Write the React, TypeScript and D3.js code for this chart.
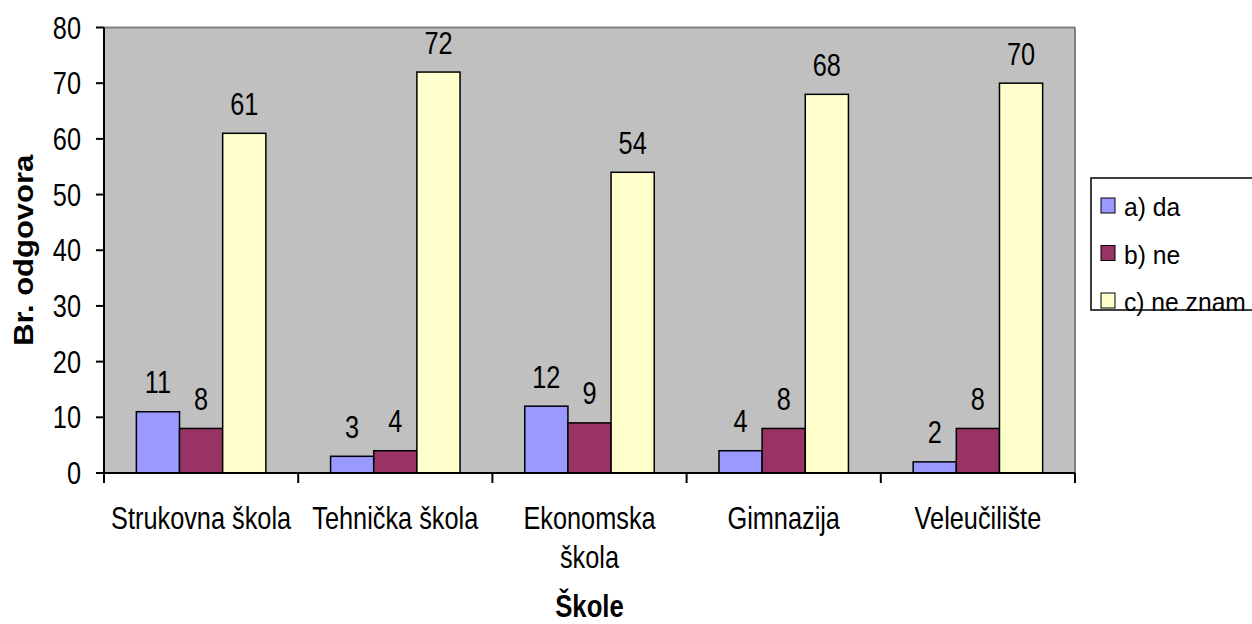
import React from "react";
import * as d3 from "d3";

const categories = ["Strukovna škola", "Tehnička škola", "Ekonomska škola", "Gimnazija", "Veleučilište"];
const categoryLines = [["Strukovna škola"], ["Tehnička škola"], ["Ekonomska", "škola"], ["Gimnazija"], ["Veleučilište"]];
const seriesNames = ["a) da", "b) ne", "c) ne znam"];
const seriesColors = ["#9999FF", "#993366", "#FFFFCC"];
const daValues = [11, 3, 12, 4, 2];
const neValues = [8, 4, 9, 8, 8];
const neZnamValues = [61, 72, 54, 68, 70];
const yTicks = [0, 10, 20, 30, 40, 50, 60, 70, 80];
const yTitle = "Br. odgovora";
const xTitle = "Škole";

const W = 1252;
const H = 624;
const FONT = "'Liberation Sans', Arial, sans-serif";
const SX = 0.83;
const FS = 30.5;

export default function App() {
  const left = 104, right = 1075, top = 27.5, bottom = 473;
  const x = d3.scaleBand<string>().domain(categories).range([left, right]).padding(0);
  const inner = d3.scaleBand<string>().domain(seriesNames).range([0, x.bandwidth()]).paddingInner(0).paddingOuter(0.75);
  const y = d3.scaleLinear().domain([0, 80]).range([bottom, top]);
  const allSeries = [daValues, neValues, neZnamValues];

  return (
    <svg width={W} height={H} style={{ position: "fixed", left: 0, top: 0, background: "#fff" }} fontFamily={FONT}>
      <rect x={left} y={top} width={right - left} height={bottom - top} fill="#C0C0C0" />
      <line x1={left} x2={right} y1={top} y2={top} stroke="#808080" strokeWidth={2} />
      <line x1={right} x2={right} y1={top} y2={bottom} stroke="#808080" strokeWidth={2} />

      {categories.map((c, ci) =>
        allSeries.map((vals, si) => {
          const bx = (x(c) as number) + (inner(seriesNames[si]) as number);
          const bw = inner.bandwidth();
          const v = vals[ci];
          return (
            <g key={c + si}>
              <rect x={bx} y={y(v)} width={bw} height={bottom - y(v)} fill={seriesColors[si]} stroke="#000" strokeWidth={1.5} />
              <text transform={`translate(${bx + bw / 2},${y(v) - 18.5}) scale(${SX},1)`} textAnchor="middle" fontSize={FS} fill="#000">
                {v}
              </text>
            </g>
          );
        })
      )}

      <line x1={left} x2={left} y1={top} y2={bottom} stroke="#000" strokeWidth={2} />
      <line x1={left} x2={right} y1={bottom} y2={bottom} stroke="#000" strokeWidth={2} />
      {yTicks.map((t) => (
        <g key={t}>
          <line x1={left - 8} x2={left} y1={y(t)} y2={y(t)} stroke="#000" strokeWidth={2} />
          <text transform={`translate(81,${y(t) + 11}) scale(${SX},1)`} textAnchor="end" fontSize={FS} fill="#000">
            {t}
          </text>
        </g>
      ))}
      {categories.map((c, i) => (
        <line key={"t" + i} x1={x(c)} x2={x(c)} y1={bottom} y2={bottom + 10} stroke="#000" strokeWidth={2} />
      ))}
      <line x1={right} x2={right} y1={bottom} y2={bottom + 10} stroke="#000" strokeWidth={2} />

      {categories.map((c, i) => (
        <g key={"l" + i}>
          {categoryLines[i].map((ln, li) => (
            <text key={li} transform={`translate(${(x(c) as number) + x.bandwidth() / 2},${529 + li * 39}) scale(${SX},1)`} textAnchor="middle" fontSize={FS} fill="#000">
              {ln}
            </text>
          ))}
        </g>
      ))}

      <text transform={`translate(${(left + right) / 2},617) scale(${SX},1)`} textAnchor="middle" fontSize={31} fontWeight="bold" fill="#000">
        {xTitle}
      </text>
      <text transform={`translate(33,${(top + bottom) / 2}) rotate(-90) scale(1,0.88)`} textAnchor="middle" fontSize={31} fontWeight="bold" fill="#000">
        {yTitle}
      </text>

      <rect x={1091} y={178} width={170} height={132} fill="#fff" stroke="#000" strokeWidth={1.5} />
      {seriesNames.map((s, i) => (
        <g key={s}>
          <rect x={1101} y={198 + i * 47.5} width={14} height={15} fill={seriesColors[i]} stroke="#000" strokeWidth={1} />
          <text transform={`translate(1124,${216 + i * 47.5}) scale(0.93,1)`} fontSize={26.5} fill="#000">
            {s}
          </text>
        </g>
      ))}
    </svg>
  );
}
